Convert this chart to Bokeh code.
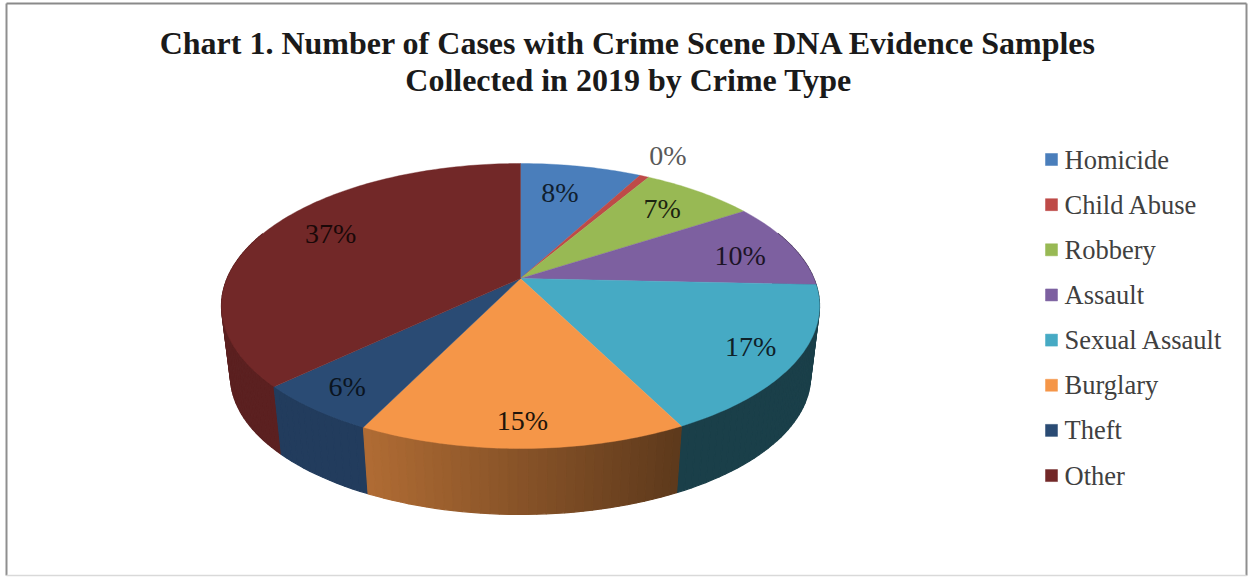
import math
from bokeh.plotting import figure
from bokeh.models import Range1d
from bokeh.core.properties import value
from bokeh.embed import file_html
from bokeh.resources import INLINE

title_lines = ["Chart 1. Number of Cases with Crime Scene DNA Evidence Samples",
               "Collected in 2019 by Crime Type"]
categories = ["Homicide", "Child Abuse", "Robbery", "Assault", "Sexual Assault", "Burglary", "Theft", "Other"]
shares = [7.9, 0.6, 7.4, 9.8, 16.8, 14.8, 5.7, 37.0]
labels = ["8%", "0%", "7%", "10%", "17%", "15%", "6%", "37%"]
colors = ["#4a7ebb", "#be4b48", "#98b954", "#7d60a0", "#46aac4", "#f59648", "#2a4b74", "#722828"]

# styling of the drawing
label_radius = [0.72, 1.23, 0.77, 0.79, 0.85, 0.87, 0.86, 0.77]
label_turn = [-2, 0, 0, 3, 0, 0, 0, 3]
label_colors = ["#10202f", "#595959", "#1c2410", "#1c1426", "#0f2128", "#20140a", "#0a1420", "#1a0808"]
side_shade = [(.5, .5), (.5, .5), (.5, .5), (.5, .5), (.37, .37), (.38, .72), (.8, .8), (.8, .8)]

W, H = 1249, 577
CX, CY, A, B, K = 520.0, 278.0, 293.4, 137.2, 0.193
DROP, SHRINK = 71.0, 0.97


def top(theta, r=1.0):
    u, v = r * math.sin(theta), r * math.cos(theta)
    d = 1 + K * v
    return CX + A * u / d, CY - B * v / d


def bottom(theta):
    x, y = top(theta)
    return CX + SHRINK * (x - CX), CY + DROP + SHRINK * (y - CY)


def shade(hex_color, f):
    rgb = [int(hex_color[i:i + 2], 16) for i in (1, 3, 5)]
    return "#%02x%02x%02x" % tuple(int(round(c * f)) for c in rgb)


p = figure(width=W, height=H, output_backend="svg", toolbar_location=None,
           x_range=Range1d(0, W), y_range=Range1d(H, 0), min_border=0,
           x_axis_location=None, y_axis_location=None,
           background_fill_color="white", border_fill_color="white", outline_line_color=None)
p.grid.visible = False

# chart frame
p.segment([6, 1246], [3, 3], [6, 1246], [575, 575], line_color="#8f8f8f", line_width=2)
p.segment([6], [3], [1246], [3], line_color="#8a8a8a", line_width=2)
p.segment([6], [575], [1246], [575], line_color="#d9d9d9", line_width=1.5)

edges = [0.0]
for s in shares:
    edges.append(edges[-1] + s)
total = edges[-1]
ang = [e / total * 2 * math.pi for e in edges]

# side wall, far strips first
strips = []
for i in range(len(shares)):
    a0, a1 = ang[i], ang[i + 1]
    n = max(2, int((a1 - a0) / math.radians(1.5)))
    f0, f1 = side_shade[i]
    for j in range(n):
        t0 = a0 + (a1 - a0) * j / n
        t1 = a0 + (a1 - a0) * (j + 1) / n
        mid = (t0 + t1) / 2
        if math.cos(mid) > 0.35:
            continue
        xa, xb = top(a0)[0], top(a1)[0]
        frac = (top(mid)[0] - xa) / (xb - xa) if xb != xa else 0
        col = shade(colors[i], f0 + (f1 - f0) * frac)
        quad = [top(t0), top(t1), bottom(t1), bottom(t0)]
        strips.append((math.cos(mid), [q[0] for q in quad], [q[1] for q in quad], col))
strips.sort(key=lambda s: -s[0])
p.patches([s[1] for s in strips], [s[2] for s in strips], fill_color=[s[3] for s in strips],
          line_color=[s[3] for s in strips], line_width=1.2)

# top face
for i in range(len(shares)):
    a0, a1 = ang[i], ang[i + 1]
    n = max(4, int((a1 - a0) / math.radians(1)))
    pts = [top(a0 + (a1 - a0) * j / n) for j in range(n + 1)]
    xs = [CX] + [q[0] for q in pts]
    ys = [CY] + [q[1] for q in pts]
    p.patch(xs, ys, fill_color=colors[i], line_color=colors[i], line_width=0.4)

# slice labels
for i, lab in enumerate(labels):
    m = (ang[i] + ang[i + 1]) / 2 + math.radians(label_turn[i])
    x, y = top(m, label_radius[i])
    p.text([x], [y - 1], text=[lab], text_font=value("Liberation Serif"), text_font_size="28px",
           text_align="center", text_baseline="middle", text_color=label_colors[i])

# title
for j, line in enumerate(title_lines):
    p.text([628], [42 + 37 * j], text=[line], text_font=value("Liberation Serif"), text_font_style="bold",
           text_font_size="32px", text_align="center", text_baseline="middle", text_color="#1a1a1a")

# legend
for i, name in enumerate(categories):
    y = 159 + 45.15 * i
    p.scatter([1051], [y], marker="square", size=12, fill_color=colors[i], line_color=colors[i], line_width=0.5)
    p.text([1064], [y], text=[name], text_font=value("Liberation Serif"), text_font_size="26.5px",
           text_align="left", text_baseline="middle", text_color="#404040")

open("out.html", "w").write(file_html(p, INLINE))
